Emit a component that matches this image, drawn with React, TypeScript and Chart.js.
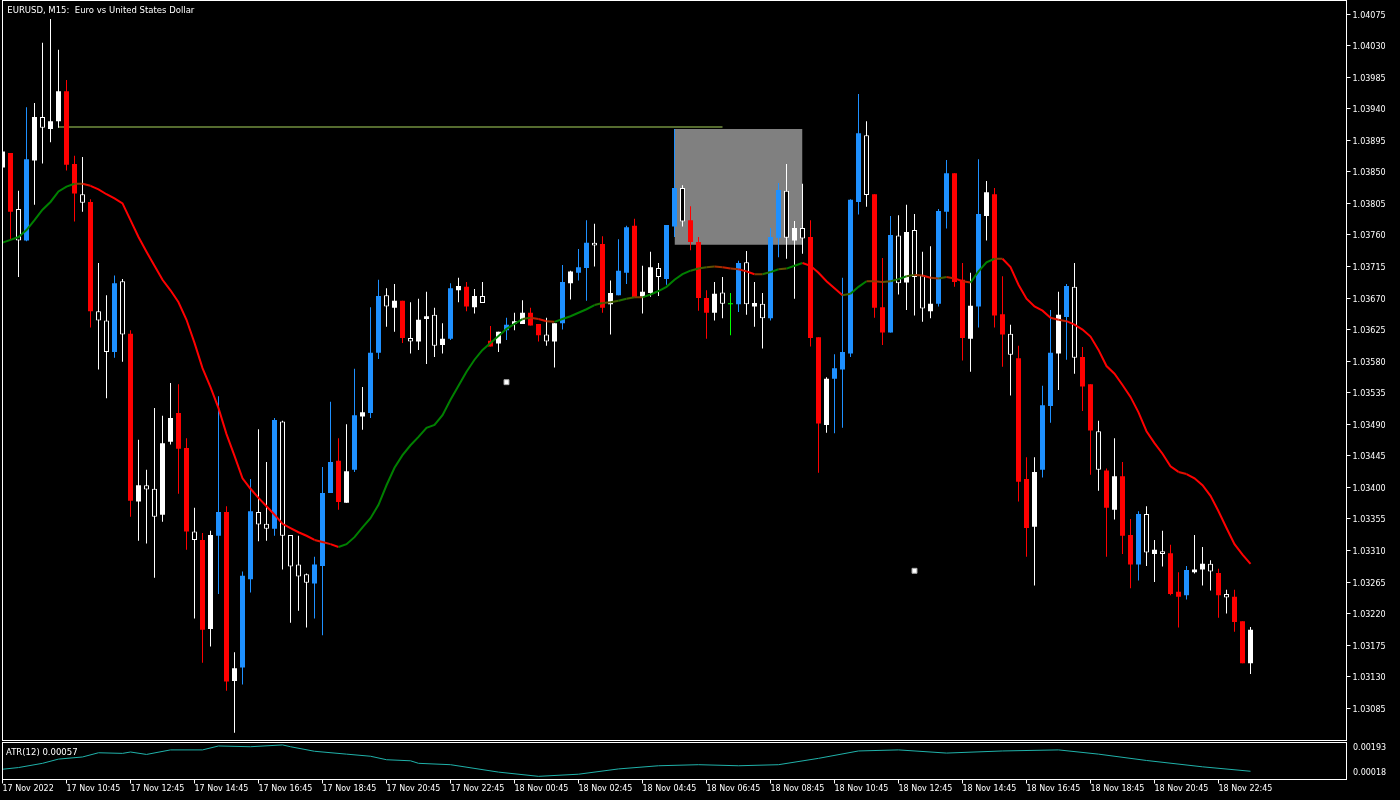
import React, { useEffect, useRef } from "react";
import { Chart, registerables } from "chart.js";

Chart.register(...registerables);

const chartTitle = "EURUSD, M15:  Euro vs United States Dollar";
const atrTitle = "ATR(12) 0.00057";

const timeLabels = [
  "17 Nov 2022", "17 Nov 10:45", "17 Nov 12:45", "17 Nov 14:45", "17 Nov 16:45",
  "17 Nov 18:45", "17 Nov 20:45", "17 Nov 22:45", "18 Nov 00:45", "18 Nov 02:45",
  "18 Nov 04:45", "18 Nov 06:45", "18 Nov 08:45", "18 Nov 10:45", "18 Nov 12:45",
  "18 Nov 14:45", "18 Nov 16:45", "18 Nov 18:45", "18 Nov 20:45", "18 Nov 22:45",
];
const timeTickIndex = [0, 8, 16, 24, 32, 40, 48, 56, 64, 72, 80, 88, 96, 104, 112, 120, 128, 136, 144, 152];

const priceTicks = [
  1.04075, 1.0403, 1.03985, 1.0394, 1.03895, 1.0385, 1.03805, 1.0376, 1.03715, 1.0367,
  1.03625, 1.0358, 1.03535, 1.0349, 1.03445, 1.034, 1.03355, 1.0331, 1.03265, 1.0322,
  1.03175, 1.0313, 1.03085,
];

const opens = [
  1.03856, 1.03877, 1.03797, 1.03752, 1.03866, 1.03928, 1.03911, 1.03922, 1.03965, 1.03861,
  1.03818, 1.03807, 1.03651, 1.03638, 1.03593, 1.03694, 1.03619, 1.0338, 1.03403, 1.03398,
  1.03361, 1.03465, 1.03506, 1.03456, 1.03337, 1.03325, 1.03198, 1.03331, 1.03365, 1.03124,
  1.03143, 1.03269, 1.03365, 1.03348, 1.03341, 1.03494, 1.03332, 1.0329, 1.03276, 1.03263,
  1.03288, 1.03392, 1.03438, 1.03378, 1.03425, 1.03501, 1.03506, 1.03592, 1.03674, 1.03656,
  1.03666, 1.03613, 1.03608, 1.0364, 1.03646, 1.03603, 1.03612, 1.03681, 1.03686, 1.03657,
  1.03673, 1.03609, 1.03605, 1.03624, 1.03633, 1.03633, 1.03649, 1.03633, 1.03618, 1.03608,
  1.03634, 1.03691, 1.03706, 1.03713, 1.03749, 1.03747, 1.03661, 1.03674, 1.03706, 1.03773,
  1.03672, 1.03677, 1.03713, 1.03697, 1.03772, 1.03827, 1.03781, 1.0375, 1.0367, 1.03649,
  1.03678, 1.03661, 1.03661, 1.03721, 1.03658, 1.03662, 1.03641, 1.03756, 1.03823, 1.03752,
  1.0377, 1.03757, 1.03614, 1.03489, 1.03555, 1.03568, 1.03591, 1.03807, 1.03902, 1.03818,
  1.03657, 1.03621, 1.03759, 1.03692, 1.03767, 1.03702, 1.03651, 1.03662, 1.03793, 1.03848,
  1.03696, 1.03612, 1.03658, 1.03787, 1.03818, 1.03647, 1.03619, 1.03584, 1.03412, 1.03344,
  1.03425, 1.03516, 1.03591, 1.03643, 1.03686, 1.03586, 1.03547, 1.0348, 1.03424, 1.03368,
  1.03416, 1.03332, 1.0329, 1.03362, 1.03305, 1.03309, 1.03306, 1.03251, 1.03246, 1.03279,
  1.03283, 1.03291, 1.03278, 1.03248, 1.03244, 1.03209, 1.03149,
];

const highs = [
  1.03881, 1.03877, 1.03823, 1.03942, 1.03948, 1.04034, 1.04068, 1.04024, 1.03981, 1.03873,
  1.03871, 1.03811, 1.0372, 1.03674, 1.03702, 1.03697, 1.03624, 1.03468, 1.03425, 1.03513,
  1.03502, 1.03549, 1.03547, 1.0347, 1.03371, 1.03335, 1.03338, 1.0353, 1.03373, 1.03165,
  1.0328, 1.03412, 1.03483, 1.03436, 1.03499, 1.03495, 1.03332, 1.03331, 1.03277, 1.03301,
  1.03429, 1.03522, 1.0347, 1.0349, 1.03569, 1.03543, 1.03657, 1.03696, 1.03684, 1.0369,
  1.03666, 1.03664, 1.03669, 1.03679, 1.03656, 1.03634, 1.03691, 1.03699, 1.03693, 1.03683,
  1.03693, 1.0363, 1.03622, 1.03642, 1.03649, 1.03667, 1.03656, 1.03633, 1.03642, 1.03634,
  1.03717, 1.03709, 1.0374, 1.03781, 1.03776, 1.03758, 1.03695, 1.03754, 1.03773, 1.03783,
  1.03716, 1.03736, 1.0372, 1.03774, 1.03911, 1.03831, 1.03801, 1.03757, 1.03681, 1.03693,
  1.037, 1.03677, 1.03723, 1.03737, 1.03693, 1.03677, 1.0377, 1.03834, 1.03861, 1.0378,
  1.03833, 1.03781, 1.03614, 1.03557, 1.0359, 1.03699, 1.03811, 1.03961, 1.03922, 1.03818,
  1.03727, 1.03787, 1.03788, 1.03803, 1.0379, 1.03736, 1.03744, 1.03797, 1.03867, 1.03848,
  1.0372, 1.03706, 1.03868, 1.03837, 1.03827, 1.03701, 1.03632, 1.03602, 1.03443, 1.03443,
  1.03545, 1.03653, 1.03679, 1.0369, 1.0372, 1.036, 1.03547, 1.03495, 1.03427, 1.0347,
  1.03436, 1.03355, 1.03366, 1.03373, 1.03325, 1.03338, 1.03318, 1.03279, 1.03288, 1.03332,
  1.03315, 1.03296, 1.03284, 1.03254, 1.03254, 1.03209, 1.03201,
];

const lows = [
  1.03853, 1.03753, 1.037, 1.03751, 1.03803, 1.03862, 1.03892, 1.03913, 1.03852, 1.03779,
  1.03793, 1.03628, 1.03568, 1.03527, 1.03585, 1.03579, 1.03358, 1.03324, 1.0332, 1.03271,
  1.03351, 1.03461, 1.03391, 1.03311, 1.03213, 1.0315, 1.03173, 1.03248, 1.0311, 1.0305,
  1.03119, 1.0325, 1.03323, 1.03324, 1.03331, 1.03283, 1.03207, 1.03224, 1.032, 1.03213,
  1.03189, 1.03392, 1.03368, 1.03378, 1.03422, 1.03482, 1.03499, 1.03583, 1.03629, 1.03622,
  1.03606, 1.03591, 1.03596, 1.03576, 1.03586, 1.03591, 1.0361, 1.03664, 1.03651, 1.03648,
  1.03663, 1.03601, 1.03593, 1.0361, 1.03624, 1.03633, 1.03631, 1.03608, 1.03602, 1.03571,
  1.03625, 1.03668, 1.03695, 1.03666, 1.03715, 1.03649, 1.03618, 1.03674, 1.0369, 1.03671,
  1.03648, 1.03672, 1.03673, 1.03689, 1.03757, 1.03772, 1.03738, 1.03652, 1.03612, 1.03638,
  1.03641, 1.03617, 1.0365, 1.03646, 1.03629, 1.03598, 1.03638, 1.03728, 1.03726, 1.03669,
  1.03733, 1.03601, 1.03421, 1.03478, 1.03477, 1.03485, 1.03586, 1.03789, 1.038, 1.03642,
  1.03603, 1.03621, 1.03675, 1.03653, 1.03645, 1.03636, 1.03641, 1.03658, 1.03769, 1.03686,
  1.03581, 1.03565, 1.03628, 1.03752, 1.03628, 1.03572, 1.03531, 1.0338, 1.03301, 1.0326,
  1.03414, 1.03492, 1.03539, 1.03582, 1.03562, 1.03509, 1.03418, 1.03395, 1.03301, 1.03354,
  1.03305, 1.03256, 1.03267, 1.03288, 1.03265, 1.03287, 1.03246, 1.032, 1.0324, 1.03277,
  1.0326, 1.03253, 1.03214, 1.0322, 1.03194, 1.03149, 1.03134,
];

const closes = [
  1.03879, 1.03793, 1.03752, 1.03868, 1.03928, 1.03913, 1.03922, 1.03965, 1.0386, 1.03819,
  1.03806, 1.03651, 1.03638, 1.03593, 1.03691, 1.03618, 1.03381, 1.03403, 1.03397, 1.03358,
  1.03463, 1.03499, 1.03455, 1.03337, 1.03325, 1.03197, 1.03332, 1.03365, 1.03123, 1.03142,
  1.03274, 1.03366, 1.03347, 1.03341, 1.03496, 1.03331, 1.03287, 1.03273, 1.03264, 1.0329,
  1.03392, 1.03436, 1.03379, 1.03423, 1.03503, 1.03507, 1.03592, 1.03673, 1.03658, 1.03666,
  1.03613, 1.03608, 1.03639, 1.03644, 1.03602, 1.03612, 1.03684, 1.03687, 1.03658, 1.03673,
  1.03663, 1.03601, 1.03622, 1.03632, 1.03637, 1.03649, 1.03631, 1.03617, 1.03608, 1.03634,
  1.03693, 1.03708, 1.03714, 1.03749, 1.03745, 1.03656, 1.03677, 1.03709, 1.03771, 1.03671,
  1.03679, 1.03714, 1.037, 1.03774, 1.03827, 1.03779, 1.0375, 1.0367, 1.03649, 1.03676,
  1.03662, 1.03661, 1.0372, 1.03661, 1.03663, 1.03641, 1.03757, 1.03824, 1.03756, 1.0377,
  1.03755, 1.03613, 1.03491, 1.03555, 1.0357, 1.03593, 1.0381, 1.03905, 1.03817, 1.03656,
  1.03621, 1.0376, 1.03691, 1.03764, 1.037, 1.03655, 1.03662, 1.03794, 1.03848, 1.03693,
  1.03613, 1.03659, 1.0379, 1.03821, 1.03645, 1.03618, 1.03589, 1.03408, 1.03342, 1.03422,
  1.03517, 1.03592, 1.03646, 1.03687, 1.03585, 1.03544, 1.03481, 1.03425, 1.03371, 1.03416,
  1.03331, 1.0329, 1.03362, 1.03307, 1.03311, 1.03305, 1.03248, 1.03244, 1.03282, 1.03283,
  1.03291, 1.0328, 1.03246, 1.03243, 1.03208, 1.03149, 1.03197,
];

// b = blue signal, r = red signal, w = plain bull (white), h = plain bear (hollow), g = doji signal
const candleKind = [
  "w", "r", "h", "b", "w", "h", "w", "w", "r", "r",
  "h", "r", "h", "h", "b", "h", "r", "w", "h", "h",
  "w", "w", "r", "r", "h", "r", "w", "b", "r", "w",
  "b", "b", "h", "h", "b", "h", "h", "h", "h", "b",
  "b", "b", "r", "w", "b", "w", "b", "b", "h", "w",
  "r", "h", "w", "w", "h", "w", "b", "w", "r", "w",
  "h", "r", "w", "b", "w", "w", "r", "r", "h", "w",
  "b", "w", "b", "b", "h", "r", "w", "b", "b", "r",
  "w", "w", "h", "b", "b", "h", "r", "r", "r", "w",
  "h", "g", "b", "h", "w", "h", "b", "b", "h", "w",
  "h", "r", "r", "w", "b", "b", "b", "b", "h", "r",
  "r", "b", "h", "w", "h", "h", "w", "b", "b", "r",
  "r", "w", "b", "w", "r", "r", "h", "r", "r", "w",
  "b", "b", "w", "b", "h", "r", "r", "h", "r", "w",
  "r", "r", "b", "h", "w", "h", "r", "r", "b", "w",
  "w", "h", "r", "h", "r", "r", "w",
];

const maValues = [
  1.03749, 1.03753, 1.03757, 1.03767, 1.03781, 1.03796, 1.03807, 1.03822, 1.03829, 1.03833,
  1.03833, 1.0383, 1.03825, 1.03818, 1.03812, 1.03805, 1.03781, 1.03757, 1.03736, 1.03716,
  1.03696, 1.03681, 1.03664, 1.03639, 1.03606, 1.0357, 1.03543, 1.03513, 1.03476, 1.03445,
  1.03413, 1.03398, 1.03385, 1.03373, 1.03361, 1.03348, 1.03342, 1.03336, 1.03331, 1.03325,
  1.03322, 1.03319, 1.03315, 1.03319, 1.03329, 1.03343, 1.03356, 1.03375, 1.03403, 1.03428,
  1.03446, 1.0346, 1.03472, 1.03485, 1.03489, 1.03503, 1.03525, 1.03545, 1.03565, 1.03582,
  1.03596, 1.03606, 1.03616, 1.03626, 1.03633, 1.0364, 1.03642, 1.0364, 1.03637, 1.03636,
  1.0364, 1.03644, 1.03649, 1.03654, 1.0366, 1.03663, 1.03664, 1.03666, 1.03669, 1.03671,
  1.03671, 1.03675, 1.0368, 1.03686, 1.03696, 1.03704, 1.03709, 1.03712, 1.03714, 1.03715,
  1.03714, 1.03712, 1.03711, 1.03708, 1.03704, 1.03704, 1.03707, 1.03711, 1.03712, 1.03716,
  1.0372, 1.03716, 1.03706, 1.03694, 1.03684, 1.03674, 1.03676, 1.03686, 1.03694, 1.03694,
  1.03693, 1.03694, 1.03697, 1.03701, 1.03703, 1.03702, 1.03699, 1.03698, 1.037, 1.03698,
  1.03694, 1.03692, 1.03708, 1.03721, 1.03726, 1.03726, 1.03714, 1.03689, 1.03669, 1.03658,
  1.03652, 1.03642, 1.03639, 1.03637, 1.03632, 1.03625, 1.03615, 1.03596, 1.03573, 1.03562,
  1.03546, 1.03529, 1.03507, 1.0348, 1.03463, 1.03448, 1.0343, 1.03422, 1.03419, 1.03413,
  1.03403, 1.03388, 1.03366, 1.03342, 1.03319, 1.03304, 1.03291,
];

const atrIndex = [
  0, 2, 5, 7, 10, 12, 15, 16, 18, 21, 25, 27, 31, 35, 36, 39, 43, 46, 48, 51,
  52, 56, 62, 67, 72, 77, 82, 87, 92, 97, 102, 107, 112, 118, 125, 132, 137, 143, 150, 156,
];
const atrValues = [
  0.000665, 0.000745, 0.000945, 0.001145, 0.001245, 0.001445, 0.001415, 0.00148, 0.001365, 0.00158,
  0.00158, 0.001765, 0.00173, 0.001815, 0.00173, 0.001515, 0.00138, 0.00128, 0.001115, 0.001065,
  0.000945, 0.00088, 0.00053, 0.00033, 0.00043, 0.00068, 0.00083, 0.00088, 0.00083, 0.00088,
  0.00118, 0.00153, 0.00158, 0.00143, 0.00153, 0.00158, 0.00138, 0.00108, 0.00078, 0.00057,
];
const atrScaleTop = 0.00193;
const atrScaleBottom = 0.00018;

const levelPrice = 1.03914;
const levelFrom = 7;
const levelTo = 90;

const zoneFrom = 84;
const zoneTo = 100;
const zoneHigh = 1.03911;
const zoneLow = 1.03746;

const markerIndex = [63, 114];
const markerPrice = [1.0355, 1.03281];

// ---------- styling ----------
const FONT = '"DejaVu Sans", "Liberation Sans", sans-serif';
const X_MIN = 0;
const X_MAX = 168;
const Y_MIN = 1.03039;
const Y_MAX = 1.040943;

const KIND_FILL: Record<string, string> = {
  b: "#1E90FF", r: "#FF0000", w: "#FFFFFF", h: "#000000", g: "#00FF00",
};
const KIND_LINE: Record<string, string> = {
  b: "#1E90FF", r: "#FF0000", w: "#FFFFFF", h: "#FFFFFF", g: "#00FF00",
};

function slopeColor(d: number) {
  const t = Math.max(0, Math.min(1, 0.5 + d / 0.00008));
  return `rgb(${Math.round(255 * (1 - t))},${Math.round(128 * t)},0)`;
}

const mainDecor = {
  id: "mainDecor",
  afterDraw(chart: any) {
    const { ctx, chartArea: a } = chart;
    ctx.save();
    ctx.strokeStyle = "#FFFFFF";
    ctx.lineWidth = 1;
    ctx.strokeRect(a.left, a.top, a.right - a.left, a.bottom - a.top);
    ctx.fillStyle = "#FFFFFF";
    ctx.font = `8.5px ${FONT}`;
    ctx.textBaseline = "alphabetic";
    ctx.textAlign = "left";
    ctx.fillText(chartTitle, a.left + 4.8, 12.7);
    ctx.restore();
  },
};

const atrDecor = {
  id: "atrDecor",
  afterDraw(chart: any) {
    const { ctx, chartArea: a } = chart;
    const ys = chart.scales.y;
    ctx.save();
    ctx.strokeStyle = "#FFFFFF";
    ctx.lineWidth = 1;
    ctx.strokeRect(a.left, a.top, a.right - a.left, a.bottom - a.top);
    ctx.fillStyle = "#FFFFFF";
    ctx.font = `8.5px ${FONT}`;
    ctx.textAlign = "left";
    ctx.textBaseline = "alphabetic";
    ctx.fillText(atrTitle, a.left + 3.5, 13.7);
    ctx.font = `8px ${FONT}`;
    ctx.textBaseline = "middle";
    ctx.fillText(atrScaleTop.toFixed(5), a.right + 6.5, ys.getPixelForValue(atrScaleTop) + 5.2);
    ctx.fillText(atrScaleBottom.toFixed(5), a.right + 6.5, ys.getPixelForValue(atrScaleBottom) - 6.8);
    ctx.restore();
  },
};

export default function App() {
  const mainRef = useRef<HTMLCanvasElement>(null);
  const atrRef = useRef<HTMLCanvasElement>(null);

  useEffect(() => {
    const idx = opens.map((_, i) => i);
    const bodyData = idx.map((i) => ({ x: i, y: [opens[i], closes[i]] }));
    const wickData = idx.map((i) => ({ x: i, y: [lows[i], highs[i]] }));
    const maData = idx.map((i) => ({ x: i, y: maValues[i] }));

    const main = new Chart(mainRef.current as HTMLCanvasElement, {
      type: "bar",
      data: {
        datasets: [
          {
            type: "line",
            data: [{ x: zoneFrom, y: zoneHigh }, { x: zoneTo, y: zoneHigh }],
            borderWidth: 0,
            pointRadius: 0,
            fill: "+1",
            backgroundColor: "#808080",
            order: 10,
          } as any,
          {
            type: "line",
            data: [{ x: zoneFrom, y: zoneLow }, { x: zoneTo, y: zoneLow }],
            borderWidth: 0,
            pointRadius: 0,
            fill: false,
            order: 10,
          } as any,
          {
            type: "line",
            data: [{ x: levelFrom, y: levelPrice }, { x: levelTo, y: levelPrice }],
            borderColor: "#556B2F",
            borderWidth: 2,
            pointRadius: 0,
            fill: false,
            order: 9,
          } as any,
          {
            type: "bar",
            data: wickData,
            backgroundColor: candleKind.map((k) => KIND_LINE[k]),
            borderWidth: 0,
            barThickness: 1,
            grouped: false,
            inflateAmount: 0,
            minBarLength: 1,
            order: 5,
          } as any,
          {
            type: "bar",
            data: bodyData,
            backgroundColor: candleKind.map((k) => KIND_FILL[k]),
            borderColor: candleKind.map((k) => KIND_LINE[k]),
            borderWidth: candleKind.map((k) => (k === "h" ? 1 : 0)),
            borderSkipped: false,
            barThickness: 5,
            grouped: false,
            inflateAmount: 0,
            minBarLength: 1,
            order: 4,
          } as any,
          {
            type: "line",
            data: markerIndex.map((x, i) => ({ x, y: markerPrice[i] })),
            showLine: false,
            pointStyle: "rect",
            pointRadius: 3.5,
            backgroundColor: "#FFFFFF",
            borderColor: "#A8A8A8",
            borderWidth: 1,
            order: 3,
          } as any,
          {
            type: "line",
            data: maData,
            borderWidth: 2,
            borderColor: "#FF0000",
            pointRadius: 0,
            fill: false,
            tension: 0,
            segment: {
              borderColor: (c: any) => slopeColor(c.p1.parsed.y - c.p0.parsed.y),
            },
            order: 1,
          } as any,
        ],
      },
      options: {
        animation: false,
        responsive: false,
        devicePixelRatio: 1,
        events: [],
        layout: { autoPadding: false, padding: { left: 2.5, top: 0.5, right: 0, bottom: 0.5 } },
        plugins: {
          legend: { display: false },
          tooltip: { enabled: false },
          title: { display: false },
        },
        scales: {
          x: {
            type: "linear",
            display: false,
            min: X_MIN,
            max: X_MAX,
            offset: false,
            grid: { offset: false },
          },
          y: {
            type: "linear",
            position: "right",
            min: Y_MIN,
            max: Y_MAX,
            afterFit: (s: any) => {
              s.width = 53.5;
              s.paddingTop = 0;
              s.paddingBottom = 0;
              s.paddingLeft = 0;
              s.paddingRight = 0;
            },
            afterBuildTicks: (s: any) => {
              s.ticks = priceTicks.map((v) => ({ value: v }));
            },
            ticks: {
              color: "#FFFFFF",
              font: { family: FONT, size: 8 },
              padding: 2,
              labelOffset: 1.5,
              autoSkip: false,
              callback: (v: any) => Number(v).toFixed(5),
            },
            grid: { drawOnChartArea: false, drawTicks: true, tickLength: 4, color: "#FFFFFF" },
            border: { display: true, color: "#FFFFFF" },
          },
        },
      } as any,
      plugins: [mainDecor],
    });

    const atr = new Chart(atrRef.current as HTMLCanvasElement, {
      type: "line",
      data: {
        datasets: [
          {
            data: atrIndex.map((x, i) => ({ x, y: atrValues[i] })),
            borderColor: "#20B2AA",
            borderWidth: 1,
            pointRadius: 0,
            fill: false,
            tension: 0,
          },
        ],
      },
      options: {
        animation: false,
        responsive: false,
        devicePixelRatio: 1,
        events: [],
        layout: { autoPadding: false, padding: { left: 2.5, top: 1.5, right: 53.5, bottom: 0 } },
        plugins: { legend: { display: false }, tooltip: { enabled: false } },
        scales: {
          x: {
            type: "linear",
            position: "bottom",
            min: X_MIN,
            max: X_MAX,
            offset: false,
            afterFit: (s: any) => {
              s.height = 20.5;
              s.paddingTop = 0;
              s.paddingBottom = 0;
              s.paddingLeft = 0;
              s.paddingRight = 0;
            },
            afterBuildTicks: (s: any) => {
              s.ticks = timeTickIndex.map((v) => ({ value: v }));
            },
            ticks: {
              color: "#FFFFFF",
              font: { family: FONT, size: 8 },
              align: "start",
              padding: 1,
              autoSkip: false,
              maxRotation: 0,
              minRotation: 0,
              callback: (_v: any, i: number) => timeLabels[i],
            },
            grid: { drawOnChartArea: false, drawTicks: true, tickLength: 4, color: "#FFFFFF", offset: false },
            border: { display: true, color: "#FFFFFF" },
          },
          y: {
            type: "linear",
            display: false,
            min: atrScaleBottom,
            max: atrScaleTop,
          },
        },
      } as any,
      plugins: [atrDecor],
    });

    return () => {
      main.destroy();
      atr.destroy();
    };
  }, []);

  return (
    <div
      style={{
        position: "fixed",
        left: 0,
        top: 0,
        width: 1400,
        height: 800,
        background: "#000000",
        overflow: "hidden",
      }}
    >
      <canvas
        ref={mainRef}
        width={1400}
        height={741}
        style={{ position: "absolute", left: 0, top: 0, width: 1400, height: 741 }}
      />
      <canvas
        ref={atrRef}
        width={1400}
        height={59}
        style={{ position: "absolute", left: 0, top: 741, width: 1400, height: 59 }}
      />
    </div>
  );
}
